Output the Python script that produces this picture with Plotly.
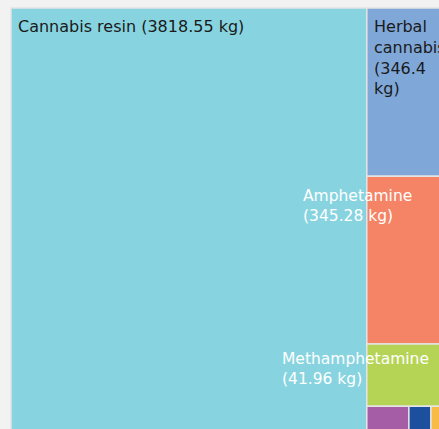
import plotly.graph_objects as go

# ---- data ----
categories = ["Cannabis resin", "Herbal cannabis", "Amphetamine", "Other A",
              "Methamphetamine", "Other B", "Other C"]
seized_kg = [3818.55, 346.4, 345.28, 128.0, 41.96, 22.0, 20.0]
tile_colors = ["#87d4e0", "#7fa8d9", "#f48465", "#b5d455",
               "#a55ea6", "#1c4f9e", "#f8bb45"]

# ---- layout constants ----
W, H = 462, 455
ML, MR, MT, MB = 11, 11, 8, 8
PW, PH = W - ML - MR, H - MT - MB
FONT = "DejaVu Sans"


def px_to_paper(x, y):
    return (x - ML) / PW, 1 - (y - MT) / PH


value_of = dict(zip(categories, seized_kg))


def lbl(name):
    return f"{name} ({value_of[name]:g} kg)"


# label text, pixel anchor (top-left), font size, colour
label_specs = [
    (lbl("Cannabis resin"), (15.8, 15), 16, "#1a1a1a"),
    ("<br>".join(lbl("Herbal cannabis").split(" ")), (372, 15), 16, "#1a1a1a"),
    (f"Amphetamine<br>({value_of['Amphetamine']:g} kg)", (301, 184.5), 15.5, "white"),
    (f"Methamphetamine<br>({value_of['Methamphetamine']:g} kg)", (279.5, 347.5), 15.5, "white"),
]

annotations = []
for text, (px, py), size, col in label_specs:
    ax, ay = px_to_paper(px, py)
    annotations.append(dict(
        text=text, x=ax, y=ay, xref="paper", yref="paper",
        xanchor="left", yanchor="top", align="left", showarrow=False,
        font=dict(family=FONT, size=size, color=col),
    ))

fig = go.Figure(go.Treemap(
    labels=categories,
    parents=[""] * len(categories),
    values=seized_kg,
    sort=True,
    marker=dict(colors=tile_colors, line=dict(color="#e4e4e4", width=1.5),
                pad=dict(t=0, l=0, r=0, b=0)),
    tiling=dict(pad=0),
    pathbar=dict(visible=False),
    textinfo="none",
    hovertemplate="%{label}: %{value} kg<extra></extra>",
))

fig.update_layout(
    width=W, height=H,
    margin=dict(l=ML, r=MR, t=MT, b=MB, pad=0),
    paper_bgcolor="#f2f2f2",
    font=dict(family=FONT),
    annotations=annotations,
)

fig.write_html(
    "out.html",
    config={"displayModeBar": False},
    post_script=(
        "document.body.style.margin='0';"
        "document.body.style.background='#f2f2f2';"
        "document.body.style.overflow='hidden';"
        "document.documentElement.style.overflow='hidden';"
    ),
)
